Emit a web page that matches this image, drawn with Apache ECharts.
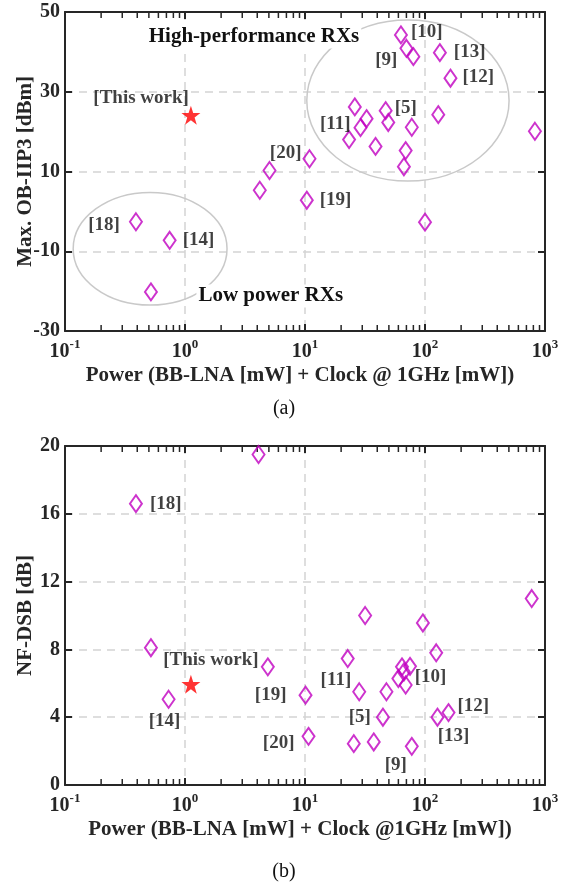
<!DOCTYPE html>
<html>
<head>
<meta charset="utf-8">
<script src="https://cdn.jsdelivr.net/npm/echarts@6/dist/echarts.min.js"></script>
<style>
  html, body { margin: 0; padding: 0; background: #ffffff; }
  #chart { width: 567px; height: 884px; }
</style>
</head>
<body>
<div id="chart"></div>
<script>
// (a) Max. out-of-band IIP3 versus power consumption
const powerA = [0.39, 0.52, 0.745, 4.2, 5.06, 10.35, 10.9, 23.3, 26, 29, 32.6, 38.7, 47, 49.4, 63, 66.7, 69, 70, 77.6, 80, 100, 129, 133, 163, 824];
const iip3 = [-2.6, -20.2, -7.25, 5.3, 10.25, 2.8, 13.2, 18, 26.2, 21, 23.25, 16.3, 25.25, 22.3, 44.25, 11.2, 15.25, 40.9, 21.1, 38.8, -2.7, 24.25, 39.8, 33.4, 20.1];
const refsA = ['[18]', '', '[14]', '', '', '[19]', '[20]', '', '', '[11]', '', '', '[5]', '', '[10]', '', '', '', '', '[9]', '', '', '[13]', '[12]', ''];

// (b) NF-DSB versus power consumption
const powerB = [0.39, 0.52, 0.73, 4.1, 4.9, 10.1, 10.7, 22.7, 25.5, 28.3, 31.7, 37.4, 44.6, 47.7, 60, 64.3, 66.7, 69, 75, 77.6, 96, 124, 127, 157, 775];
const nfDsb = [16.6, 8.1, 5.06, 19.5, 6.97, 5.3, 2.87, 7.46, 2.44, 5.5, 10.0, 2.54, 4.0, 5.5, 6.28, 6.97, 6.67, 5.9, 7.0, 2.28, 9.56, 7.8, 4.0, 4.27, 11.0];
const refsB = ['[18]', '', '[14]', '', '', '[19]', '[20]', '', '', '[11]', '', '', '[5]', '', '', '', '', '[10]', '', '[9]', '', '', '[13]', '[12]', ''];

// This work
const thisWorkPower = [1.12];
const thisWorkIip3 = [24.1];
const thisWorkNf = [5.95];

// Axis ticks
const powerTicks = [0.1, 1, 10, 100, 1000];
const iip3Ticks = [-30, -10, 10, 30, 50];
const nfTicks = [0, 4, 8, 12, 16, 20];

// Group annotations (data-space bounding boxes and caption anchors)
const groupHighPerf = { name: 'High-performance RXs', xMin: 10.35, xMax: 502, yMin: 7.6, yMax: 48 };
const groupLowPower = { name: 'Low power RXs', xMin: 0.117, xMax: 2.24, yMin: -23.5, yMax: 4.75 };
const highPerfCaptionAt = [3.76, 43.75];
const lowPowerCaptionAt = [1.245, -21.2];

// ---- styling ----
const FONT = '"Liberation Serif", "Times New Roman", serif';
const AXIS_COLOR = '#262626';
const MARK_COLOR = '#c000c0';
const GRID_LINE = { type: [8, 6], color: '#d4d4d4', width: 1.5 };
const TITLE_SIZE = 21;
const TICK_LEN = 7;

const labelPlaceA = {
  '[10]': { align: 'left', offset: [10, -3] },
  '[9]':  { align: 'right', offset: [-16, 3] },
  '[13]': { align: 'left', offset: [14, -1] },
  '[12]': { align: 'left', offset: [12, -1] },
  '[5]':  { align: 'left', offset: [9, -3] },
  '[11]': { align: 'right', offset: [-10, -4] },
  '[20]': { align: 'right', offset: [-8, -6] },
  '[19]': { align: 'left', offset: [13, 0] },
  '[18]': { align: 'right', offset: [-16, 3] },
  '[14]': { align: 'left', offset: [13, 0] }
};
const labelPlaceB = {
  '[18]': { align: 'left', offset: [14, 0] },
  '[14]': { align: 'center', offset: [-4, 22] },
  '[19]': { align: 'right', offset: [-19, 0] },
  '[11]': { align: 'right', offset: [-8, -12] },
  '[10]': { align: 'left', offset: [9, -8] },
  '[5]':  { align: 'right', offset: [-12, 0] },
  '[12]': { align: 'left', offset: [9, -7] },
  '[13]': { align: 'center', offset: [16, 19] },
  '[20]': { align: 'right', offset: [-14, 7] },
  '[9]':  { align: 'center', offset: [-16, 19] }
};

const labelFont = { fontFamily: FONT, fontWeight: 'bold', fontSize: 19, color: '#111111' };

// minor log ticks (2..9 within each decade)
const minorPowerTicks = [];
[0.1, 1, 10, 100].forEach(d => { for (let k = 2; k <= 9; k++) minorPowerTicks.push(+(d * k).toPrecision(3)); });

const STAR = 'path://M50,0 L61.8,35.1 L98.9,35.1 L68.9,56.8 L80.3,91.9 L50,70.2 L19.7,91.9 L31.1,56.8 L1.1,35.1 L38.2,35.1 Z';

function buildPoints(xs, ys, refs, place) {
  return xs.map((x, i) => {
    const item = { value: [x, ys[i]] };
    const r = refs[i];
    if (r) {
      const p = place[r];
      item.label = Object.assign({
        show: true, formatter: r, position: 'inside',
        align: p.align, verticalAlign: 'middle', offset: p.offset
      }, labelFont);
    }
    return item;
  });
}

const boxLine = { show: true, onZero: false, lineStyle: { color: AXIS_COLOR, width: 2 } };
const majorTick = { show: true, inside: true, length: TICK_LEN, lineStyle: { color: AXIS_COLOR, width: 2 } };

function xAxes(gridIndex, name) {
  const base = { type: 'log', logBase: 10, min: powerTicks[0], max: powerTicks[powerTicks.length - 1], gridIndex };
  return [
    Object.assign({}, base, {
      position: 'bottom',
      name, nameLocation: 'middle', nameGap: 34, nameMoveOverlap: false,
      nameTextStyle: { fontFamily: FONT, fontWeight: 'bold', fontSize: TITLE_SIZE, color: AXIS_COLOR, padding: [0, 10, 0, 0] },
      axisLine: boxLine,
      axisTick: majorTick,
      splitLine: { show: true, lineStyle: GRID_LINE },
      axisLabel: {
        show: true, margin: 7, color: AXIS_COLOR,
        formatter: v => '{b|10}{s|' + Math.round(Math.log10(v)) + '}',
        rich: {
          b: { fontFamily: FONT, fontWeight: 'bold', fontSize: 20, color: AXIS_COLOR, lineHeight: 24, verticalAlign: 'bottom' },
          s: { fontFamily: FONT, fontWeight: 'bold', fontSize: 13, color: AXIS_COLOR, lineHeight: 24, verticalAlign: 'top' }
        }
      }
    }),
    Object.assign({}, base, {
      position: 'top', axisLine: boxLine, axisTick: majorTick,
      splitLine: { show: false }, axisLabel: { show: false }
    })
  ];
}

function yAxes(gridIndex, name, ticks, nameGap) {
  const min = ticks[0], max = ticks[ticks.length - 1], interval = ticks[1] - ticks[0];
  const base = { type: 'value', min, max, interval, gridIndex };
  return [
    Object.assign({}, base, {
      position: 'left',
      name, nameLocation: 'middle', nameGap, nameMoveOverlap: false,
      nameTextStyle: { fontFamily: FONT, fontWeight: 'bold', fontSize: TITLE_SIZE, color: AXIS_COLOR },
      axisLine: boxLine, axisTick: majorTick,
      splitLine: { show: true, lineStyle: GRID_LINE },
      axisLabel: { show: true, margin: 5, fontFamily: FONT, fontWeight: 'bold', fontSize: 20, color: AXIS_COLOR }
    }),
    Object.assign({}, base, {
      position: 'right', axisLine: boxLine, axisTick: majorTick,
      splitLine: { show: false }, axisLabel: { show: false }
    })
  ];
}

const diamondStyle = { color: 'rgba(0,0,0,0)', borderColor: MARK_COLOR, borderWidth: 2 };
const starStyle = { color: '#ff0000', borderWidth: 0 };

const chart = echarts.init(document.getElementById('chart'), null, { renderer: 'canvas' });

chart.setOption({
  animation: false,
  backgroundColor: '#ffffff',
  grid: [
    { left: 65, right: 22, top: 12, height: 319, outerBoundsMode: 'none' },
    { left: 65, right: 22, top: 446, height: 339, outerBoundsMode: 'none' }
  ],
  xAxis: [].concat(
    xAxes(0, 'Power (BB-LNA [mW] + Clock @ 1GHz [mW])'),
    xAxes(1, 'Power (BB-LNA [mW] + Clock @1GHz [mW])')
  ),
  yAxis: [].concat(
    yAxes(0, 'Max. OB-IIP3 [dBm]', iip3Ticks, 29),
    yAxes(1, 'NF-DSB [dB]', nfTicks, 29)
  ),
  series: [
    {
      type: 'scatter', xAxisIndex: 0, yAxisIndex: 0, z: 3,
      symbol: 'diamond', symbolSize: [12, 17], itemStyle: diamondStyle,
      data: buildPoints(powerA, iip3, refsA, labelPlaceA)
    },
    {
      type: 'scatter', xAxisIndex: 0, yAxisIndex: 0, z: 4,
      symbol: STAR, symbolSize: 19, itemStyle: starStyle,
      data: [{
        value: [thisWorkPower[0], thisWorkIip3[0]],
        label: Object.assign({ show: true, formatter: '[This work]', position: 'inside', align: 'right', verticalAlign: 'middle', offset: [-2, -17] }, labelFont)
      }]
    },
    {
      type: 'scatter', xAxisIndex: 2, yAxisIndex: 2, z: 3,
      symbol: 'diamond', symbolSize: [12, 17], itemStyle: diamondStyle,
      data: buildPoints(powerB, nfDsb, refsB, labelPlaceB)
    },
    {
      type: 'scatter', xAxisIndex: 2, yAxisIndex: 2, z: 4,
      symbol: STAR, symbolSize: 19, itemStyle: starStyle,
      data: [{
        value: [thisWorkPower[0], thisWorkNf[0]],
        label: Object.assign({ show: true, formatter: '[This work]', position: 'inside', align: 'center', verticalAlign: 'middle', offset: [20, -24] }, labelFont)
      }]
    }
  ]
});

// Group ellipses and their captions, placed in the data space of panel (a)
function groupGraphics(g, textAt, textAlign) {
  const tl = chart.convertToPixel({ seriesIndex: 0 }, [g.xMin, g.yMax]);
  const br = chart.convertToPixel({ seriesIndex: 0 }, [g.xMax, g.yMin]);
  const t = chart.convertToPixel({ seriesIndex: 0 }, textAt);
  return [
    {
      type: 'ellipse', z: 1, silent: true,
      shape: { cx: (tl[0] + br[0]) / 2, cy: (tl[1] + br[1]) / 2, rx: (br[0] - tl[0]) / 2, ry: (br[1] - tl[1]) / 2 },
      style: { fill: 'none', stroke: '#c9c9c9', lineWidth: 1.5 }
    },
    {
      type: 'text', z: 5, silent: true, x: t[0], y: t[1],
      style: {
        text: g.name, fontFamily: FONT, fontWeight: 'bold', fontSize: TITLE_SIZE, fill: '#111111',
        align: textAlign, verticalAlign: 'middle', backgroundColor: '#ffffff', padding: [1, 2]
      }
    }
  ];
}

// Minor log ticks along the bottom and top edges of a panel
function minorTickGraphics(seriesIndex, yTicks) {
  const yMin = yTicks[0], yMax = yTicks[yTicks.length - 1];
  const children = [];
  minorPowerTicks.forEach(v => {
    const b = chart.convertToPixel({ seriesIndex }, [v, yMin]);
    const t = chart.convertToPixel({ seriesIndex }, [v, yMax]);
    children.push({
      type: 'rect', silent: true,
      shape: { x: b[0] - 0.75, y: b[1] - TICK_LEN + 1, width: 1.5, height: TICK_LEN - 1 },
      style: { fill: AXIS_COLOR }
    });
    children.push({
      type: 'rect', silent: true,
      shape: { x: t[0] - 0.75, y: t[1], width: 1.5, height: TICK_LEN - 1 },
      style: { fill: AXIS_COLOR }
    });
  });
  return { type: 'group', z: 10, silent: true, children };
}

chart.setOption({
  graphic: [].concat(
    groupGraphics(groupHighPerf, highPerfCaptionAt, 'center'),
    groupGraphics(groupLowPower, lowPowerCaptionAt, 'left'),
    [
      minorTickGraphics(0, iip3Ticks),
      minorTickGraphics(2, nfTicks),
      { type: 'text', x: 284, y: 409, style: { text: '(a)', fontFamily: FONT, fontSize: 20, fill: '#111111', align: 'center', verticalAlign: 'middle' } },
      { type: 'text', x: 284, y: 872, style: { text: '(b)', fontFamily: FONT, fontSize: 20, fill: '#111111', align: 'center', verticalAlign: 'middle' } }
    ]
  )
});
</script>
</body>
</html>
